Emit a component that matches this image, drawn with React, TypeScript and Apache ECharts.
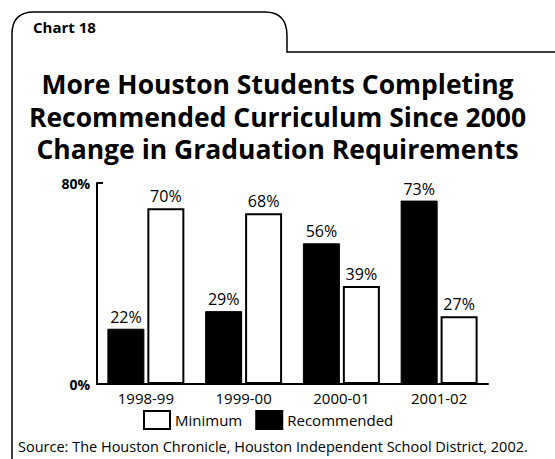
import React, { useEffect, useRef } from "react";
import * as echarts from "echarts";

const categories = ["1998-99", "1999-00", "2000-01", "2001-02"];
const recommended = [22, 29, 56, 73];
const minimum = [70, 68, 39, 27];
const yTicks = [0, 80];
const chartLabel = "Chart 18";
const titleLines = [
  "More Houston Students Completing",
  "Recommended Curriculum Since 2000",
  "Change in Graduation Requirements",
];
const sourceText = "Source: The Houston Chronicle, Houston Independent School District, 2002.";

const FONT = "'Open Sans', 'Noto Sans', sans-serif";

export default function App() {
  const ref = useRef<HTMLDivElement>(null);
  useEffect(() => {
    if (!ref.current) return;
    echarts.graphic.registerShape(
      "frameTab",
      echarts.graphic.extendPath(
        "M12,459 L12,34 Q12,12 34,12 L265,12 Q287,12 287,36 L287,52 L555,52",
        {}
      )
    );
    const chart = echarts.init(ref.current, null, { renderer: "svg" });
    chart.setOption({
      animation: false,
      backgroundColor: "#fff",
      title: {
        text: titleLines.join("\n"),
        left: "center",
        top: 68,
        padding: 0,
        textStyle: {
          fontFamily: FONT,
          fontWeight: 700,
          fontSize: 26.5,
          lineHeight: 32.5,
          color: "#000",
          align: "center",
        },
      },
      legend: {
        data: ["Minimum", "Recommended"],
        left: 143,
        top: 410,
        padding: 0,
        icon: "rect",
        itemWidth: 26,
        itemHeight: 18,
        itemGap: 13,
        selectedMode: false,
        textStyle: { fontFamily: FONT, fontSize: 15, color: "#000" },
      },
      grid: { left: 97, right: 67, top: 183, bottom: 75 },
      xAxis: {
        type: "category",
        data: categories,
        axisLine: { lineStyle: { color: "#000", width: 2 } },
        axisTick: { inside: true, length: 5, lineStyle: { color: "#000", width: 2 } },
        axisLabel: { fontFamily: FONT, fontSize: 15, color: "#000", margin: 6 },
      },
      yAxis: {
        type: "value",
        min: 0,
        max: 80,
        interval: 80,
        splitLine: { show: false },
        axisLine: { show: true, lineStyle: { color: "#000", width: 2 } },
        axisTick: { show: true, inside: true, length: 6, lineStyle: { color: "#000", width: 2 } },
        axisLabel: {
          fontFamily: FONT,
          fontSize: 14,
          fontWeight: 700,
          color: "#000",
          margin: 7,
          formatter: (v: number) => (yTicks.includes(v) ? v + "%" : ""),
        },
      },
      series: [
        {
          name: "Recommended",
          type: "bar",
          data: recommended,
          barWidth: 37,
          barGap: "8%",
          itemStyle: { color: "#000", borderColor: "#000", borderWidth: 1 },
          label: {
            show: true,
            position: "top",
            distance: 4,
            formatter: "{c}%",
            fontFamily: FONT,
            fontSize: 16,
            color: "#000",
          },
        },
        {
          name: "Minimum",
          type: "bar",
          data: minimum,
          barWidth: 37,
          itemStyle: { color: "#fff", borderColor: "#000", borderWidth: 2 },
          label: {
            show: true,
            position: "top",
            distance: 4,
            formatter: "{c}%",
            fontFamily: FONT,
            fontSize: 16,
            color: "#000",
          },
        },
      ],
      graphic: [
        {
          type: "frameTab",
          x: 0,
          y: 0,
          style: { fill: "none", stroke: "#000", lineWidth: 1.5 },
          silent: true,
        },
        {
          type: "text",
          left: 33,
          top: 19,
          style: {
            text: chartLabel,
            fontFamily: FONT,
            fontWeight: 700,
            fontSize: 15,
            fill: "#000",
          },
        },
        {
          type: "text",
          left: 18,
          top: 439,
          style: {
            text: sourceText,
            fontFamily: FONT,
            fontSize: 14.5,
            fill: "#000",
          },
        },
      ],
    });
    return () => chart.dispose();
  }, []);
  return (
    <div
      ref={ref}
      style={{ position: "fixed", left: 0, top: 0, width: 555, height: 459 }}
    />
  );
}
